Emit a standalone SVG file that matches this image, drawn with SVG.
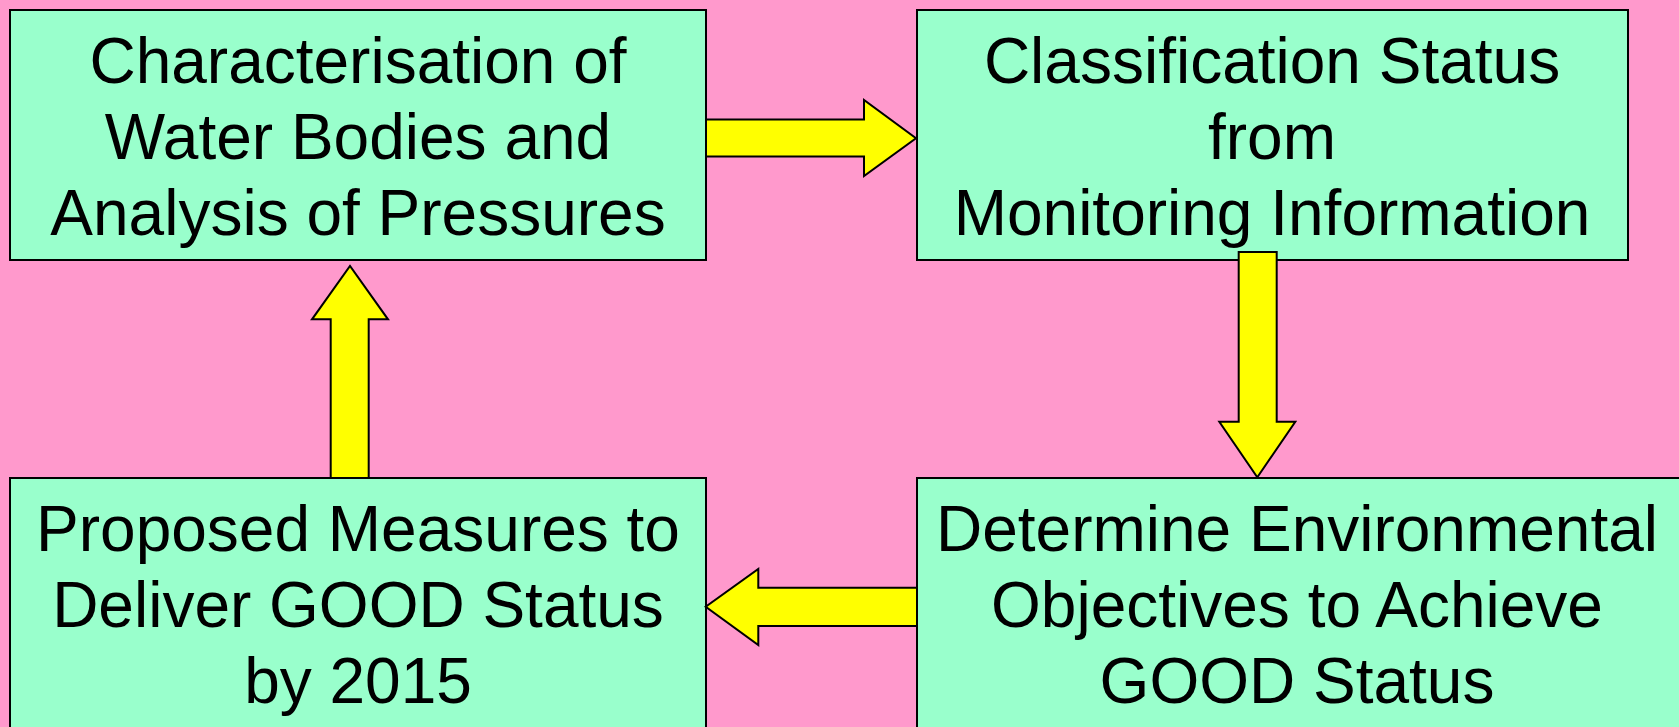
<svg xmlns="http://www.w3.org/2000/svg" width="1679" height="727" viewBox="0 0 1679 727">
<style>
.box{fill:#99FFCC;stroke:#000;stroke-width:2}
.arr{fill:#FFFF00;stroke:#000;stroke-width:2;stroke-linejoin:miter}
.t{font-family:"Liberation Sans",Arial,sans-serif;font-size:64px;fill:#000;text-anchor:middle}
</style>
<rect x="0" y="0" width="1679" height="727" fill="#FF99CC"/>
<g id="node-characterisation">
<rect class="box" x="10" y="10" width="696" height="250"/>
<text class="t" x="358" y="83">Characterisation of</text>
<text class="t" x="358" y="159">Water Bodies and</text>
<text class="t" x="358" y="235">Analysis of Pressures</text>
</g>
<g id="node-classification">
<rect class="box" x="917" y="10" width="711" height="250"/>
<text class="t" x="1272" y="83">Classification Status</text>
<text class="t" x="1272" y="159">from</text>
<text class="t" x="1272" y="235">Monitoring Information</text>
</g>
<g id="node-measures">
<rect class="box" x="10" y="478" width="696" height="260"/>
<text class="t" x="358" y="551">Proposed Measures to</text>
<text class="t" x="358" y="627">Deliver GOOD Status</text>
<text class="t" x="358" y="703">by 2015</text>
</g>
<g id="node-objectives">
<rect class="box" x="917" y="478" width="780" height="260"/>
<text class="t" x="1297" y="551">Determine Environmental</text>
<text class="t" x="1297" y="627">Objectives to Achieve</text>
<text class="t" x="1297" y="703">GOOD Status</text>
</g>
<g id="connectors">
<polygon class="arr" points="706,119.5 864,119.5 864,100 916,138.3 864,176 864,156.5 706,156.5"/>
<polygon class="arr" points="1238.7,252 1276.7,252 1276.7,421.7 1295.3,421.7 1257.3,477.3 1219.3,421.7 1238.7,421.7"/>
<polygon class="arr" points="917,587.7 917,626 758.3,626 758.3,645 705.7,606.7 758.3,569 758.3,587.7"/>
<polygon class="arr" points="330.7,478 330.7,319.3 312,319.3 350,266 388,319.3 368.7,319.3 368.7,478"/>
</g>
</svg>
